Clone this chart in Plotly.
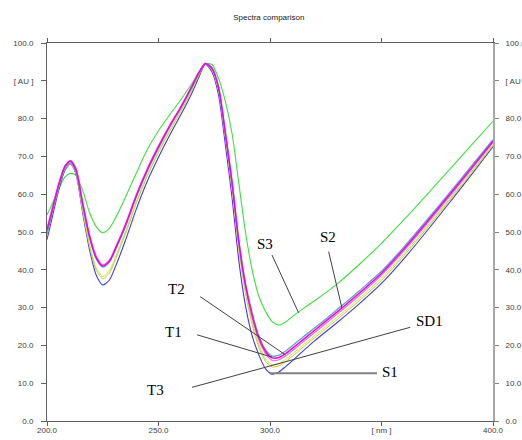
import plotly.graph_objects as go

wavelength = [200, 202, 205, 208, 210.5, 213, 216, 219, 222, 225, 228, 231, 235, 240, 245,
              250, 255, 260, 265, 268, 271, 274, 277, 280, 283, 286, 289, 292, 295, 298,
              301, 304, 307, 310, 315, 320, 330, 340, 350, 360, 370, 380, 390, 400]

s3 = [54.5, 57.0, 61.0, 64.5, 65.5, 65.0, 61.0, 55.3, 51.5, 49.8, 51.0, 54.0, 59.0, 65.5, 71.8,
      76.8, 81.0, 85.0, 89.3, 92.2, 94.5, 94.3, 90.5, 84.5, 76.0, 63.0, 50.0, 40.0, 33.0, 29.0,
      26.3, 25.4, 26.2, 27.6, 29.8, 31.8, 36.2, 41.4, 47.0, 53.2, 59.6, 66.2, 72.8, 79.3]
s1 = [48.0, 53.0, 60.5, 66.3, 68.0, 65.3, 55.0, 45.5, 38.7, 36.0, 37.3, 41.3, 47.5, 56.0, 63.5,
      69.8, 75.6, 81.0, 86.8, 90.8, 94.4, 92.3, 86.0, 73.0, 59.0, 42.5, 30.5, 22.5, 17.5, 13.8,
      12.4, 13.0, 14.4, 15.9, 18.6, 21.2, 26.0, 31.0, 36.4, 42.9, 50.0, 57.4, 64.9, 72.6]
sd1 = [49.2, 54.2, 61.2, 66.6, 68.0, 65.5, 55.6, 46.4, 40.0, 37.6, 39.2, 43.2, 49.2, 57.5, 64.8,
       71.0, 76.6, 81.9, 87.5, 91.3, 94.5, 92.8, 87.2, 74.8, 61.5, 45.6, 33.8, 25.5, 19.5, 15.8,
       14.3, 14.6, 15.7, 17.1, 19.6, 22.0, 26.8, 31.8, 37.2, 43.7, 50.7, 58.0, 65.3, 72.9]
t3 = [50.0, 54.8, 61.6, 66.8, 68.2, 65.8, 56.0, 47.0, 40.6, 38.2, 39.8, 43.8, 49.8, 58.0, 65.2,
      71.4, 77.0, 82.2, 87.8, 91.5, 94.5, 93.0, 87.5, 75.2, 62.0, 46.3, 34.6, 26.3, 20.2, 16.4,
      14.9, 15.2, 16.3, 17.7, 20.2, 22.6, 27.4, 32.4, 37.8, 44.2, 51.2, 58.4, 65.7, 73.2]
s2 = [49.5, 54.5, 61.5, 67.0, 68.3, 66.0, 57.0, 48.7, 43.0, 40.7, 42.0, 45.7, 51.2, 59.2, 66.2,
      72.2, 77.8, 82.8, 88.3, 91.8, 94.6, 93.5, 88.3, 76.5, 63.5, 48.0, 36.5, 28.5, 22.5, 18.9,
      17.2, 17.4, 18.5, 19.9, 22.3, 24.6, 29.4, 34.4, 39.6, 46.0, 52.9, 60.0, 67.2, 74.4]
t1 = [51.0, 55.5, 62.3, 67.5, 68.9, 66.8, 58.0, 49.5, 43.8, 41.3, 42.6, 46.3, 51.8, 59.8, 66.8,
      72.8, 78.2, 83.2, 88.7, 92.2, 94.6, 93.2, 87.8, 75.8, 62.8, 47.2, 35.6, 27.5, 21.4, 17.8,
      16.0, 16.2, 17.2, 18.6, 21.0, 23.4, 28.2, 33.2, 38.6, 45.0, 51.9, 59.0, 66.3, 73.7]
t2 = [50.5, 55.0, 62.0, 67.3, 68.8, 66.5, 57.5, 49.0, 43.3, 41.0, 42.3, 46.0, 51.5, 59.5, 66.5,
      72.5, 78.0, 83.0, 88.5, 92.0, 94.6, 93.3, 88.0, 76.0, 63.0, 47.5, 36.0, 28.0, 22.0, 18.4,
      16.7, 16.8, 17.8, 19.2, 21.6, 24.0, 28.8, 33.8, 39.1, 45.5, 52.4, 59.5, 66.7, 74.0]

series = [
    ("S3", s3, "#3ee03e", 1.1),
    ("S1", s1, "#3a3aff", 1.1),
    ("SD1", sd1, "#d0c820", 1.0),
    ("T3", t3, "#b4ee3c", 1.0),
    ("S2", s2, "#5aa8b8", 1.3),
    ("T1", t1, "#ff66d0", 1.2),
    ("T2", t2, "#f000f0", 1.5),
]

y_ticks = [0, 10, 20, 30, 40, 50, 60, 70, 80, 90, 100]
y_ticktext = ["0.0", "10.0", "20.0", "30.0", "40.0", "50.0", "60.0", "70.0", "80.0", "[ AU ]", "100.0"]
x_ticks = [200, 250, 300, 350, 400]
x_ticktext = ["200.0", "250.0", "300.0", "[ nm ]", "400.0"]

# label texts and their positions (data coords)
labels = [
    ("S3", 297.9, 46.8), ("S2", 326.1, 48.7), ("T2", 258.0, 34.9), ("T1", 256.6, 23.5),
    ("T3", 248.6, 8.2), ("SD1", 371.4, 26.5), ("S1", 353.9, 13.0),
]
leader_lines = [
    (300.9, 43.9, 312.8, 28.65, "#404040", 1),
    (326.3, 44.8, 332.3, 29.8, "#404040", 1),
    (268.7, 32.9, 306.9, 17.5, "#404040", 1),
    (267.3, 22.8, 301.0, 16.9, "#404040", 1),
    (265.0, 8.9, 309.6, 16.1, "#404040", 1),
    (362.9, 24.8, 309.6, 16.1, "#404040", 1),
    (300.1, 12.6, 348.0, 12.6, "#808080", 2),
]

fig = go.Figure()
for name, vals, col, w in series:
    fig.add_trace(go.Scatter(x=wavelength, y=vals, mode="lines", name=name,
                             line=dict(color=col, width=w, shape="spline", smoothing=0.7),
                             hoverinfo="skip"))
fig.add_trace(go.Scatter(x=wavelength, y=t2, mode="lines", yaxis="y2", opacity=0,
                         line=dict(width=0.1), hoverinfo="skip", showlegend=False))

tickfont = dict(family="Liberation Sans, Arial, sans-serif", size=8, color="#404040")

for name, lx, ly in labels:
    fig.add_annotation(x=lx, y=ly, xref="x", yref="y", text=name, showarrow=False,
                       font=dict(family="Liberation Serif, Times New Roman, serif", size=15, color="#000000"))
for x0, y0, x1, y1, col, w in leader_lines:
    fig.add_shape(type="line", xref="x", yref="y", x0=x0, y0=y0, x1=x1, y1=y1,
                  line=dict(color=col, width=w))

fig.update_layout(
    width=522, height=440,
    margin=dict(l=47, r=29, t=43, b=19),
    paper_bgcolor="white", plot_bgcolor="white",
    showlegend=False,
    hovermode=False,
    title=dict(text="Spectra comparison", x=0.515, xanchor="center", y=0.96, yanchor="middle",
               font=dict(family="Liberation Sans, Arial, sans-serif", size=8, color="#202020")),
    xaxis=dict(range=[200, 400], tickvals=x_ticks, ticktext=x_ticktext, showgrid=False,
               zeroline=False, showline=True, linecolor="#606060", linewidth=1,
               mirror="ticks", ticks="outside", ticklen=4, tickcolor="#606060",
               tickfont=tickfont, ticklabelstandoff=-3, automargin=False),
    yaxis=dict(range=[0, 100], tickvals=y_ticks, ticktext=y_ticktext, showgrid=False,
               zeroline=False, showline=True, linecolor="#606060", linewidth=1,
               ticks="outside", ticklen=5, tickcolor="#606060", tickfont=tickfont,
               ticklabelstandoff=6, automargin=False),
    yaxis2=dict(range=[0, 100], overlaying="y", side="right", anchor="x",
                tickvals=y_ticks, ticktext=y_ticktext, showgrid=False, zeroline=False,
                showline=True, linecolor="#a8a8a8", linewidth=2, ticks="outside", ticklen=4,
                tickcolor="#808080", tickfont=tickfont, ticklabelstandoff=5, automargin=False),
)

fig.write_html("out.html", config={"displayModeBar": False},
               post_script="document.body.style.margin='0';document.body.style.overflow='hidden';")
